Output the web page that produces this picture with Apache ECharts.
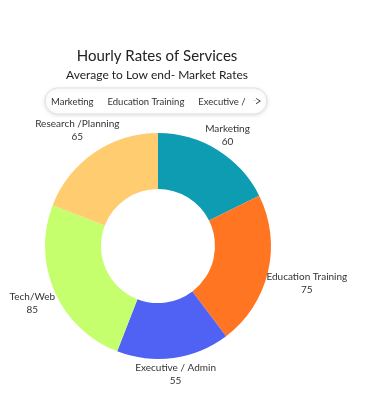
<!DOCTYPE html>
<html><head><meta charset="utf-8">
<script src="https://cdn.jsdelivr.net/npm/echarts@6/dist/echarts.min.js"></script>
<style>html,body{margin:0;padding:0;background:#fff}#c{width:375px;height:418px}</style>
</head><body><div id="c"></div>
<script>
const categories = ['Marketing', 'Education Training', 'Executive / Admin', 'Tech/Web', 'Research /Planning'];
const values = [60, 75, 55, 85, 65];
const colors = ['#0E9CB3', '#FF7522', '#4F62F3', '#C6FF6E', '#FFCC70'];
const FONT = 'Lato';
const CX = 158, CY = 246, R_IN = 57, R_OUT = 113, PAD = 200;
const total = values.reduce((a, b) => a + b, 0);
const chart = echarts.init(document.getElementById('c'), null, {renderer: 'canvas'});
chart.setOption({
  animation: false,
  color: colors,
  title: {
    text: 'Hourly Rates of Services',
    subtext: 'Average to Low end- Market Rates',
    left: 152, top: 44, textAlign: 'center', itemGap: 5,
    textStyle: {fontFamily: FONT, fontSize: 15, fontWeight: 'normal', color: '#222'},
    subtextStyle: {fontFamily: FONT, fontSize: 12, color: '#222'}
  },
  legend: {
    type: 'scroll',
    left: 45, top: 88, width: 215,
    data: categories,
    icon: 'none', itemWidth: 0, itemGap: 9,
    padding: [7, 6, 7, 1],
    backgroundColor: '#fff', borderColor: '#e2e2e2', borderWidth: 1, borderRadius: 13,
    shadowBlur: 4, shadowColor: 'rgba(0,0,0,0.12)', shadowOffsetY: 1,
    textStyle: {fontFamily: FONT, fontSize: 9.5, color: '#333'},
    pageFormatter: '', pageIconSize: [5, 8], pageButtonGap: 3, pageButtonItemGap: 0,
    pageIcons: {horizontal: ['path://M10,0 L2,5 L10,10 L10,8.5 L4.5,5 L10,1.5 Z', 'path://M0,0 L8,5 L0,10 L0,8.5 L5.5,5 L0,1.5 Z']},
    pageIconColor: '#333', pageIconInactiveColor: 'rgba(0,0,0,0)',
    pageTextStyle: {fontSize: 1}
  },
  series: [{
    type: 'pie',
    left: -PAD, top: 0, width: 375 + 2 * PAD, height: 418,
    center: [CX + PAD, CY], radius: [R_IN, R_OUT],
    startAngle: 90, clockwise: true,
    avoidLabelOverlap: false,
    label: {
      show: true, position: 'outside', formatter: '{b}\n{c}', overflow: 'none',
      fontFamily: FONT, fontSize: 10, color: '#333', lineHeight: 13
    },
    labelLine: {show: false},
    labelLayout: function (p) {
      let cum = 0;
      for (let i = 0; i < p.dataIndex; i++) cum += values[i];
      const mid = (90 - (cum + values[p.dataIndex] / 2) / total * 360) * Math.PI / 180;
      const dx = Math.cos(mid), dy = -Math.sin(mid);
      const w = p.labelRect.width, h = p.labelRect.height;
      const half = Math.abs(dx) * w / 2 + Math.abs(dy) * h / 2 * 0.55;
      const r = R_OUT + 3 + 0.9 * half;
      return {x: CX + dx * r, y: CY + dy * r + 2, align: 'center', verticalAlign: 'middle'};
    },
    data: categories.map((n, i) => ({name: n, value: values[i]}))
  }]
});
</script></body></html>
